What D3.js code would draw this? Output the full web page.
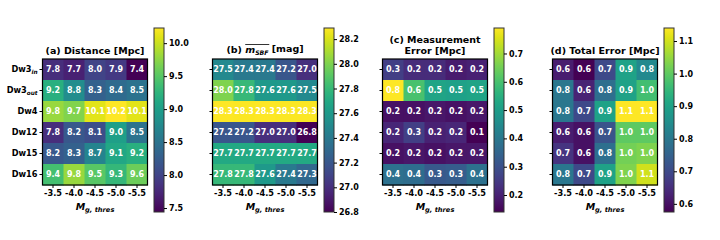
<!DOCTYPE html>
<html>
<head>
    <title>Heatmap panels</title>
    <script src="https://d3js.org/d3.v7.min.js"></script>
    <style>
        body { margin: 0; background: #fff; }
        text { font-family: "DejaVu Sans", sans-serif; font-weight: bold; }
    </style>
</head>
<body>
    <div id="chart"></div>
    <script>
        // categories
        const fields = ["Dw3_in", "Dw3_out", "Dw4", "Dw12", "Dw15", "Dw16"];
        const thresholds = ["-3.5", "-4.0", "-4.5", "-5.0", "-5.5"];

        // values, one row per field
        const distance = [
            [7.8, 7.7, 8.0, 7.9, 7.44],
            [9.2, 8.8, 8.3, 8.4, 8.5],
            [9.8, 9.7, 10.1, 10.23, 10.1],
            [7.8, 8.2, 8.1, 9.0, 8.5],
            [8.2, 8.3, 8.7, 9.1, 9.2],
            [9.4, 9.8, 9.5, 9.3, 9.6]
        ];
        const mSbf = [
            [27.5, 27.4, 27.4, 27.2, 27.0],
            [28.0, 27.8, 27.6, 27.6, 27.5],
            [28.29, 28.28, 28.29, 28.28, 28.28],
            [27.2, 27.2, 27.0, 27.0, 26.8],
            [27.7, 27.7, 27.7, 27.7, 27.7],
            [27.8, 27.8, 27.6, 27.4, 27.3]
        ];
        const measErr = [
            [0.26, 0.22, 0.22, 0.19, 0.2],
            [0.79, 0.6, 0.52, 0.51, 0.52],
            [0.17, 0.17, 0.18, 0.17, 0.18],
            [0.21, 0.26, 0.2, 0.21, 0.14],
            [0.17, 0.18, 0.17, 0.18, 0.18],
            [0.38, 0.37, 0.32, 0.33, 0.38]
        ];
        const totalErr = [
            [0.62, 0.575, 0.7, 0.9, 0.84],
            [0.8, 0.63, 0.78, 0.9, 0.97],
            [0.8, 0.7, 0.9, 1.14, 1.14],
            [0.62, 0.6, 0.72, 1.0, 1.0],
            [0.66, 0.6, 0.78, 1.02, 1.03],
            [0.8, 0.7, 0.9, 1.03, 1.1]
        ];

        // colorbar tick labels
        const ticksA = [7.5, 8.0, 8.5, 9.0, 9.5, 10.0];
        const ticksB = [26.8, 27.0, 27.2, 27.4, 27.6, 27.8, 28.0, 28.2];
        const ticksC = [0.2, 0.3, 0.4, 0.5, 0.6, 0.7];
        const ticksD = [0.6, 0.7, 0.8, 0.9, 1.0, 1.1];

        const panels = [
            { title: ["(a) Distance [Mpc]"], values: distance, ticks: ticksA },
            { title: "sbf", values: mSbf, ticks: ticksB },
            { title: ["(c) Measurement", "Error [Mpc]"], values: measErr, ticks: ticksC },
            { title: ["(d) Total Error [Mpc]"], values: totalErr, ticks: ticksD }
        ];

        const width = 720, height = 240;
        const svg = d3.select("#chart").append("svg")
            .attr("width", width).attr("height", height);

        const mapLeft = 42.5, mapTop = 59, cell = 21;
        const cbLeft = 154, cbTop = 28, cbBottom = 212, cbWidth = 10;
        const fmt = d3.format(".1f");

        // label with a mathtext-like subscript
        function subLabel(sel, base, sub, italicBase) {
            const t = sel.append("tspan").text(base);
            if (italicBase) t.attr("font-style", "italic");
            if (sub) {
                sel.append("tspan").text(sub)
                    .attr("font-style", "italic")
                    .attr("font-size", "0.7em")
                    .attr("dy", "0.3em");
            }
        }

        panels.forEach((p, i) => {
            const g = svg.append("g").attr("transform", `translate(${i * 170},0)`);

            const x = d3.scaleBand().domain(thresholds).range([mapLeft, mapLeft + cell * thresholds.length]);
            const y = d3.scaleBand().domain(fields).range([mapTop, mapTop + cell * fields.length]);
            const ext = d3.extent(p.values.flat());
            const color = d3.scaleSequential(d3.interpolateViridis).domain(ext);

            const cells = [];
            p.values.forEach((row, r) => row.forEach((v, c) => cells.push({ f: fields[r], t: thresholds[c], v })));

            g.selectAll(".cell").data(cells).enter().append("rect")
                .attr("x", d => x(d.t)).attr("y", d => y(d.f))
                .attr("width", x.bandwidth() + 0.5).attr("height", y.bandwidth() + 0.5)
                .attr("fill", d => color(d.v));

            g.selectAll(".val").data(cells).enter().append("text")
                .attr("x", d => x(d.t) + x.bandwidth() / 2)
                .attr("y", d => y(d.f) + y.bandwidth() / 2)
                .attr("dy", "0.35em")
                .attr("text-anchor", "middle")
                .attr("font-size", 8)
                .attr("fill", "#fff")
                .text(d => fmt(d.v));

            // x axis
            const xAxis = g.append("g")
                .attr("transform", `translate(0,${mapTop + cell * fields.length})`)
                .call(d3.axisBottom(x).tickSize(3).tickPadding(2));
            xAxis.select(".domain").remove();
            xAxis.selectAll("text").attr("font-size", 8.2).attr("fill", "#000").attr("font-family", "DejaVu Sans");
            g.append("text")
                .attr("x", mapLeft + cell * 2.5).attr("y", 210)
                .attr("text-anchor", "middle").attr("font-size", 9.5)
                .call(s => subLabel(s, "M", "g, thres", true));

            // y axis, only on first panel
            const yAxis = g.append("g")
                .attr("transform", `translate(${mapLeft},0)`)
                .call(d3.axisLeft(y).tickSize(3).tickPadding(2));
            yAxis.select(".domain").remove();
            if (i === 0) {
                yAxis.selectAll("text").each(function (d) {
                    const parts = d.split("_");
                    const t = d3.select(this).text(null)
                        .attr("font-size", 8.2).attr("fill", "#000").attr("font-family", "DejaVu Sans");
                    subLabel(t, parts[0], parts[1], false);
                });
            } else {
                yAxis.selectAll("text").remove();
            }

            // frame
            g.append("rect")
                .attr("x", mapLeft).attr("y", mapTop)
                .attr("width", cell * thresholds.length).attr("height", cell * fields.length)
                .attr("fill", "none").attr("stroke", "#000").attr("stroke-width", 1.2);

            // title
            const cx = mapLeft + cell * 2.5;
            if (p.title === "sbf") {
                const t = g.append("text").attr("x", cx).attr("y", 53)
                    .attr("text-anchor", "middle").attr("font-size", 9.5);
                t.append("tspan").text("(b) ");
                const m = t.append("tspan").text("m").attr("font-style", "italic");
                const s = t.append("tspan").text("SBF").attr("font-style", "italic")
                    .attr("font-size", "0.65em").attr("dy", "0.3em");
                t.append("tspan").text(" [mag]").attr("dy", "-0.3em").attr("font-size", 9.5);
                const b1 = m.node().getBBox(), b2 = s.node().getBBox();
                g.append("line")
                    .attr("x1", b1.x).attr("x2", b2.x + b2.width)
                    .attr("y1", 44.5).attr("y2", 44.5)
                    .attr("stroke", "#000").attr("stroke-width", 0.8);
            } else {
                const y0 = p.title.length > 1 ? 43 : 54;
                p.title.forEach((line, k) => {
                    g.append("text").attr("x", cx).attr("y", y0 + k * 11)
                        .attr("text-anchor", "middle").attr("font-size", 9.5).text(line);
                });
            }

            // colorbar
            const cbScale = d3.scaleLinear().domain(ext).range([cbBottom, cbTop]);
            const gradId = "grad" + i;
            const grad = svg.append("defs").append("linearGradient")
                .attr("id", gradId).attr("x1", 0).attr("x2", 0).attr("y1", 1).attr("y2", 0);
            d3.range(0, 1.0001, 0.05).forEach(s => {
                grad.append("stop").attr("offset", s).attr("stop-color", d3.interpolateViridis(s));
            });
            g.append("rect")
                .attr("x", cbLeft).attr("y", cbTop)
                .attr("width", cbWidth).attr("height", cbBottom - cbTop)
                .attr("fill", `url(#${gradId})`)
                .attr("stroke", "#333").attr("stroke-width", 1);
            const cbAxis = g.append("g")
                .attr("transform", `translate(${cbLeft + cbWidth},0)`)
                .call(d3.axisRight(cbScale).tickValues(p.ticks).tickFormat(fmt).tickSize(3).tickPadding(2));
            cbAxis.select(".domain").remove();
            cbAxis.selectAll("text").attr("font-size", 8).attr("fill", "#000").attr("font-family", "DejaVu Sans");
        });
    </script>
</body>
</html>
